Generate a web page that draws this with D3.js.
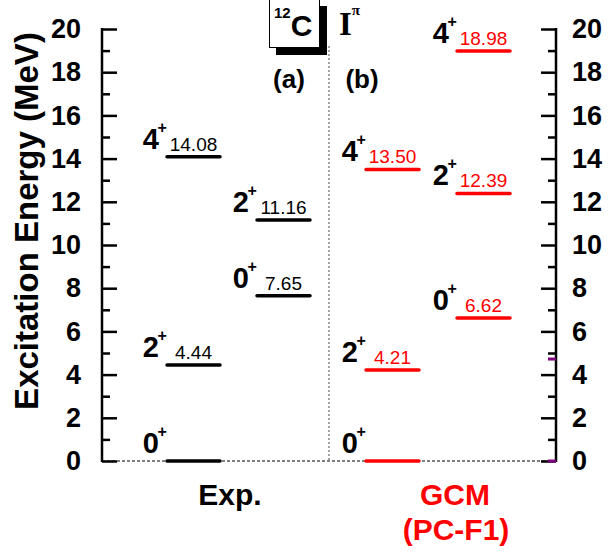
<!DOCTYPE html>
<html>
<head>
<meta charset="utf-8">
<script src="https://cdn.jsdelivr.net/npm/d3@7"></script>
<style>
  body { margin: 0; background: #fff; }
  text { font-family: "Liberation Sans", Arial, sans-serif; }
</style>
</head>
<body>
<script>
// level data
const expEnergies = [0, 4.44, 7.65, 11.16, 14.08];
const expSpins = ["0", "2", "0", "2", "4"];
const expCols = ["e1", "e1", "e2", "e2", "e1"];

const gcmEnergies = [0, 4.21, 6.62, 12.39, 13.50, 18.98];
const gcmSpins = ["0", "2", "0", "2", "4", "4"];
const gcmCols = ["g1", "g1", "g2", "g2", "g1", "g2"];

const yTicks = [0, 2, 4, 6, 8, 10, 12, 14, 16, 18, 20];
const yMinor = [1, 3, 5, 7, 9, 11, 13, 15, 17, 19];
const purpleMarks = [0, 4.72];

const width = 609, height = 555;
const left = 102, right = 556;

const svg = d3.select("body").append("svg")
  .attr("width", width)
  .attr("height", height);

const y = d3.scaleLinear().domain([0, 20]).range([461, 29]);
const colX = d3.scaleOrdinal()
  .domain(["e1", "e2", "g1", "g2"])
  .range([167, 257, 366, 457]);
const lvlW = 53;

// zero dashed line
svg.append("line")
  .attr("x1", left).attr("x2", right)
  .attr("y1", y(0)).attr("y2", y(0))
  .attr("stroke", "#000").attr("stroke-width", 1)
  .attr("stroke-dasharray", "3,2");

// vertical dotted divider
svg.append("line")
  .attr("x1", 329).attr("x2", 329)
  .attr("y1", 46).attr("y2", y(0))
  .attr("stroke", "#888").attr("stroke-width", 1.5)
  .attr("stroke-dasharray", "2,2");

// axes
const leftAxis = svg.append("g")
  .attr("transform", `translate(${left},0)`)
  .call(d3.axisLeft(y).tickValues(yTicks).tickSize(-15).tickSizeOuter(0).tickPadding(21));
const leftMinor = svg.append("g")
  .attr("transform", `translate(${left},0)`)
  .call(d3.axisLeft(y).tickValues(yMinor).tickSize(-8).tickSizeOuter(0).tickFormat(""));
const rightAxis = svg.append("g")
  .attr("transform", `translate(${right},0)`)
  .call(d3.axisRight(y).tickValues(yTicks).tickSize(-15).tickSizeOuter(0).tickPadding(16));
const rightMinor = svg.append("g")
  .attr("transform", `translate(${right},0)`)
  .call(d3.axisRight(y).tickValues(yMinor).tickSize(-8).tickSizeOuter(0).tickFormat(""));

[leftAxis, leftMinor, rightAxis, rightMinor].forEach(g => {
  g.select(".domain").remove();
  g.selectAll(".tick line").attr("stroke-width", 2.5);
  g.selectAll(".tick text")
    .attr("font-size", 27).attr("font-weight", "bold")
    .attr("font-family", "'Liberation Sans', Arial, sans-serif")
    .attr("fill", "#000");
});
svg.append("line").attr("x1", left).attr("x2", left).attr("y1", y(20) - 1).attr("y2", y(0) + 1)
  .attr("stroke", "#000").attr("stroke-width", 2.5);
svg.append("line").attr("x1", right).attr("x2", right).attr("y1", y(20) - 1).attr("y2", y(0) + 1)
  .attr("stroke", "#000").attr("stroke-width", 2.5);

// purple marks on right axis
svg.selectAll(".pm").data(purpleMarks).enter().append("line")
  .attr("x1", right - 8).attr("x2", right)
  .attr("y1", d => y(d)).attr("y2", d => y(d))
  .attr("stroke", "#800080").attr("stroke-width", 3);

function drawLevels(energies, spins, cols, color) {
  const data = energies.map((e, i) => ({ e: e, s: spins[i], c: cols[i] }));
  const g = svg.append("g");
  g.selectAll("line.lvl").data(data).enter().append("line")
    .attr("x1", d => colX(d.c)).attr("x2", d => colX(d.c) + lvlW)
    .attr("y1", d => y(d.e)).attr("y2", d => y(d.e))
    .attr("stroke", color).attr("stroke-width", 3.5)
    .attr("stroke-linecap", "round");
  // spin labels
  g.selectAll("text.spin").data(data).enter().append("text")
    .attr("x", d => colX(d.c) - 8)
    .attr("y", d => y(d.e) - 8)
    .attr("text-anchor", "end")
    .attr("font-size", 29).attr("font-weight", "bold")
    .text(d => d.s);
  g.selectAll("text.plus").data(data).enter().append("text")
    .attr("x", d => colX(d.c) - 9.5)
    .attr("y", d => y(d.e) - 24)
    .attr("font-size", 16).attr("font-weight", "bold")
    .text("+");
  // energy values
  g.selectAll("text.val").data(data.filter(d => d.e > 0)).enter().append("text")
    .attr("x", d => colX(d.c) + lvlW / 2)
    .attr("y", d => y(d.e) - 6)
    .attr("text-anchor", "middle")
    .attr("font-size", 19).attr("fill", color)
    .text(d => d.e.toFixed(2));
}
drawLevels(expEnergies, expSpins, expCols, "#000");
drawLevels(gcmEnergies, gcmSpins, gcmCols, "#ff0000");

// 12C box with shadow
svg.append("rect").attr("x", 276).attr("y", 6).attr("width", 51).attr("height", 49).attr("fill", "#000");
svg.append("rect").attr("x", 269.5).attr("y", -1).attr("width", 50).attr("height", 48.5)
  .attr("fill", "#fff").attr("stroke", "#000").attr("stroke-width", 1);
const ct = svg.append("text").attr("x", 274).attr("y", 36).attr("font-weight", "bold");
ct.append("tspan").attr("font-size", 15).attr("dy", -18).text("12");
ct.append("tspan").attr("font-size", 30).attr("dy", 18).text("C");

const ip = svg.append("text").attr("x", 339).attr("y", 35)
  .attr("font-weight", "bold");
ip.append("tspan").attr("font-size", 33).attr("font-family", "'Liberation Serif', 'Times New Roman', serif").text("I");
ip.append("tspan").attr("font-size", 15).attr("dy", -20).attr("font-family", "'Liberation Serif', serif").text("π");

svg.append("text").attr("x", 289).attr("y", 88).attr("text-anchor", "middle")
  .attr("font-size", 26).attr("font-weight", "bold").text("(a)");
svg.append("text").attr("x", 362).attr("y", 88).attr("text-anchor", "middle")
  .attr("font-size", 26).attr("font-weight", "bold").text("(b)");

// y-axis title
svg.append("text")
  .attr("transform", `translate(38,221) rotate(-90)`)
  .attr("text-anchor", "middle")
  .attr("font-size", 33).attr("font-weight", "bold")
  .text("Excitation Energy (MeV)");

// x labels
svg.append("text").attr("x", 230).attr("y", 505).attr("text-anchor", "middle")
  .attr("font-size", 30).attr("font-weight", "bold").text("Exp.");
svg.append("text").attr("x", 455).attr("y", 505).attr("text-anchor", "middle")
  .attr("font-size", 30).attr("font-weight", "bold").attr("fill", "#ff0000").text("GCM");
svg.append("text").attr("x", 456).attr("y", 540).attr("text-anchor", "middle")
  .attr("font-size", 30).attr("font-weight", "bold").attr("fill", "#ff0000").text("(PC-F1)");
</script>
</body>
</html>
